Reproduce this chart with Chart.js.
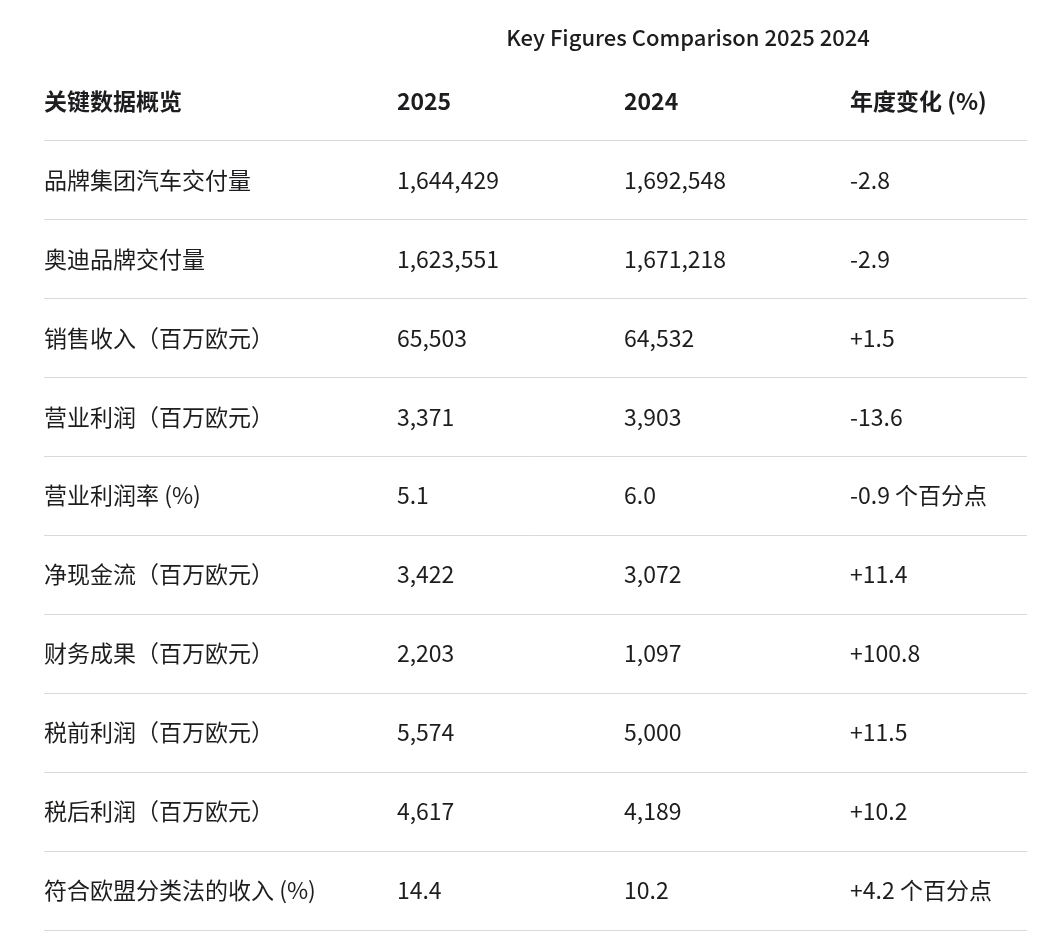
<!DOCTYPE html>
<html><head><meta charset="utf-8">
<script src="https://cdn.jsdelivr.net/npm/chart.js@4"></script>
<style>html,body{margin:0;padding:0;background:#fff;}#wrap{width:1062px;height:943px;}</style>
</head><body><div id="wrap"><canvas id="c"></canvas></div>
<script>
const title = "Key Figures Comparison 2025 2024";
const headers = ["关键数据概览", "2025", "2024", "年度变化 (%)"];
const categories = ["品牌集团汽车交付量","奥迪品牌交付量","销售收入（百万欧元）","营业利润（百万欧元）","营业利润率 (%)","净现金流（百万欧元）","财务成果（百万欧元）","税前利润（百万欧元）","税后利润（百万欧元）","符合欧盟分类法的收入 (%)"];
const values2025 = ["1,644,429","1,623,551","65,503","3,371","5.1","3,422","2,203","5,574","4,617","14.4"];
const values2024 = ["1,692,548","1,671,218","64,532","3,903","6.0","3,072","1,097","5,000","4,189","10.2"];
const changes = ["-2.8","-2.9","+1.5","-13.6","-0.9 个百分点","+11.4","+100.8","+11.5","+10.2","+4.2 个百分点"];

const colStart = [0, 0.359, 0.590, 0.820];
const FONT = '"Noto Sans CJK SC", "Noto Sans", sans-serif';

const tablePlugin = {
  id: 'table',
  afterDraw(chart) {
    const ctx = chart.ctx, xs = chart.scales.x, ys = chart.scales.y;
    ctx.save();
    ctx.fillStyle = '#1d1d1f';
    ctx.textBaseline = 'middle';
    ctx.font = '500 22px ' + FONT;
    ctx.textAlign = 'center';
    ctx.fillText(title, 688, 38);
    ctx.textAlign = 'left';
    // row lines
    ctx.strokeStyle = '#d9d9d9'; ctx.lineWidth = 1;
    for (let i = 0; i <= categories.length; i++) {
      const y = Math.round(ys.getPixelForValue(i + 0.5)) + 0.5;
      ctx.beginPath(); ctx.moveTo(xs.getPixelForValue(0), y); ctx.lineTo(xs.getPixelForValue(1), y); ctx.stroke();
    }
    ctx.font = '600 23px ' + FONT;
    headers.forEach((h, j) => ctx.fillText(h, xs.getPixelForValue(colStart[j]), ys.getPixelForValue(0)));
    ctx.font = '400 23px ' + FONT;
    categories.forEach((c, i) => {
      const y = ys.getPixelForValue(i + 1);
      [c, values2025[i], values2024[i], changes[i]].forEach((t, j) =>
        ctx.fillText(t, xs.getPixelForValue(colStart[j]), y));
    });
    ctx.restore();
  }
};

new Chart(document.getElementById('c'), {
  type: 'scatter',
  data: { datasets: [{ data: categories.map((c, i) => ({x: 0, y: i + 1})), pointRadius: 0 }] },
  options: {
    responsive: true, maintainAspectRatio: false, animation: false,
    layout: { padding: { top: 61.5, bottom: 13, left: 44, right: 35 } },
    plugins: { legend: { display: false }, tooltip: { enabled: false } },
    scales: {
      x: { type: 'linear', min: 0, max: 1, display: false },
      y: { type: 'linear', min: -0.5, max: 10.5, reverse: true, display: false }
    }
  },
  plugins: [tablePlugin]
});
</script></body></html>
